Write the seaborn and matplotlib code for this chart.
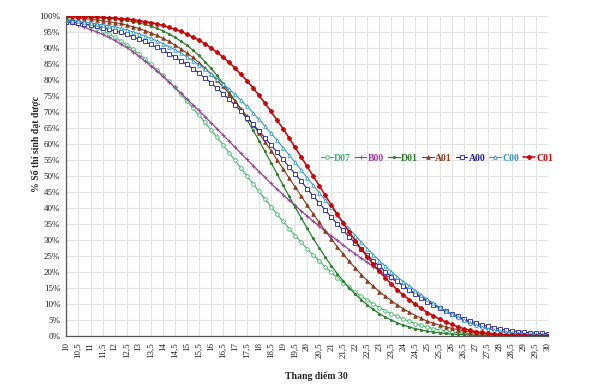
import numpy as np
import matplotlib
matplotlib.use("Agg")
import matplotlib.pyplot as plt
import seaborn as sns

# -----------------------------------------------------------
# Data: % of candidates reaching each score (scale of 30)
# -----------------------------------------------------------

scores = np.arange(10, 30.001, 0.25)

d07 = [99.0, 98.7, 98.2, 97.7, 97.0, 96.3, 95.4, 94.5, 93.4, 92.3, 91.0, 89.7,
       88.2, 86.7, 85.0, 83.3, 81.5, 79.6, 77.7, 75.6, 73.5, 71.3, 69.1, 66.8,
       64.5, 62.1, 59.8, 57.3, 54.9, 52.5, 50.0, 47.6, 45.2, 42.8, 40.4, 38.1,
       35.8, 33.6, 31.4, 29.3, 27.3, 25.3, 23.5, 21.6, 19.9, 18.2, 16.7, 15.2,
       13.7, 12.4, 11.2, 10.0, 8.9, 7.9, 7.0, 6.1, 5.3, 4.6, 3.9, 3.3,
       2.8, 2.3, 1.9, 1.6, 1.3, 1.1, 0.9, 0.7, 0.6, 0.5, 0.4, 0.3,
       0.3, 0.2, 0.2, 0.2, 0.1, 0.1, 0.1, 0.1, 0.1]
b00 = [98.2, 97.7, 97.1, 96.5, 95.8, 95.1, 94.3, 93.4, 92.4, 91.3, 90.2, 88.9,
       87.5, 86.0, 84.5, 82.9, 81.2, 79.5, 77.7, 76.0, 74.1, 72.3, 70.5, 68.6,
       66.7, 64.8, 62.9, 61.0, 59.0, 57.1, 55.2, 53.3, 51.4, 49.6, 47.7, 45.9,
       44.2, 42.4, 40.8, 39.1, 37.5, 35.9, 34.3, 32.8, 31.3, 29.9, 28.4, 27.0,
       25.7, 24.3, 23.0, 21.7, 20.5, 19.2, 18.0, 16.8, 15.7, 14.5, 13.4, 12.2,
       11.1, 10.0, 8.9, 7.8, 6.8, 5.8, 5.0, 4.2, 3.5, 2.9, 2.3, 1.9,
       1.5, 1.2, 0.9, 0.7, 0.5, 0.4, 0.3, 0.2, 0.2]
d01 = [99.9, 99.9, 99.8, 99.8, 99.7, 99.6, 99.5, 99.3, 99.2, 98.9, 98.7, 98.3,
       97.9, 97.4, 96.9, 96.2, 95.4, 94.5, 93.4, 92.2, 90.9, 89.4, 87.7, 85.8,
       83.7, 81.5, 79.0, 76.4, 73.6, 70.7, 67.6, 64.4, 61.1, 57.7, 54.2, 50.7,
       47.2, 43.7, 40.3, 37.0, 33.7, 30.5, 27.6, 24.7, 22.0, 19.5, 17.2, 15.0,
       13.1, 11.3, 9.7, 8.3, 7.0, 5.9, 5.0, 4.1, 3.4, 2.8, 2.3, 1.9,
       1.5, 1.2, 1.0, 0.8, 0.6, 0.5, 0.4, 0.3, 0.2, 0.2, 0.1, 0.1,
       0.1, 0.1, 0.1, 0.0, 0.0, 0.0, 0.0, 0.0, 0.0]
a01 = [99.6, 99.5, 99.4, 99.2, 99.0, 98.8, 98.6, 98.3, 98.0, 97.7, 97.2, 96.7,
       96.2, 95.5, 94.8, 94.0, 93.1, 92.1, 91.0, 89.8, 88.5, 87.1, 85.5, 83.8,
       82.0, 80.0, 78.0, 75.8, 73.5, 71.1, 68.7, 66.1, 63.4, 60.7, 57.9, 55.1,
       52.3, 49.4, 46.6, 43.8, 40.9, 38.2, 35.5, 32.9, 30.4, 27.9, 25.6, 23.3,
       21.2, 19.2, 17.3, 15.5, 13.9, 12.4, 11.0, 9.7, 8.5, 7.4, 6.4, 5.5,
       4.6, 4.0, 3.4, 2.9, 2.4, 2.0, 1.6, 1.3, 1.0, 0.8, 0.6, 0.5,
       0.4, 0.3, 0.2, 0.2, 0.1, 0.1, 0.1, 0.1, 0.1]
a00 = [98.3, 98.1, 97.8, 97.5, 97.2, 96.8, 96.4, 95.9, 95.4, 94.9, 94.3, 93.6,
       92.9, 92.1, 91.2, 90.3, 89.4, 88.3, 87.2, 86.1, 84.9, 83.6, 82.2, 80.7,
       79.2, 77.5, 75.8, 74.0, 72.2, 70.2, 68.2, 66.2, 64.1, 61.9, 59.7, 57.5,
       55.2, 52.9, 50.7, 48.4, 46.1, 43.8, 41.6, 39.4, 37.2, 35.1, 33.0, 31.0,
       29.0, 27.1, 25.3, 23.5, 21.8, 20.1, 18.6, 17.1, 15.7, 14.3, 13.1, 11.9,
       10.7, 9.7, 8.7, 7.7, 6.9, 6.1, 5.4, 4.7, 4.1, 3.5, 3.0, 2.6,
       2.2, 1.9, 1.6, 1.4, 1.2, 1.0, 0.9, 0.8, 0.7]
c00 = [98.7, 98.5, 98.4, 98.1, 97.9, 97.6, 97.3, 97.0, 96.6, 96.2, 95.7, 95.1,
       94.5, 93.8, 93.1, 92.3, 91.4, 90.5, 89.5, 88.4, 87.3, 86.1, 84.8, 83.4,
       82.0, 80.5, 78.9, 77.3, 75.5, 73.7, 71.8, 69.8, 67.7, 65.6, 63.4, 61.2,
       58.9, 56.6, 54.3, 51.9, 49.5, 47.2, 44.8, 42.5, 40.2, 37.9, 35.7, 33.5,
       31.4, 29.3, 27.3, 25.4, 23.6, 21.8, 20.1, 18.5, 17.0, 15.6, 14.2, 12.8,
       11.5, 10.2, 9.0, 7.9, 6.8, 5.8, 4.9, 4.1, 3.4, 2.8, 2.2, 1.8,
       1.5, 1.2, 1.0, 0.8, 0.7, 0.6, 0.5, 0.5, 0.4]
c01 = [99.9, 99.9, 99.8, 99.8, 99.7, 99.7, 99.6, 99.5, 99.4, 99.2, 99.1, 98.9,
       98.6, 98.3, 98.0, 97.6, 97.1, 96.5, 95.9, 95.2, 94.4, 93.5, 92.5, 91.4,
       90.1, 88.7, 87.2, 85.6, 83.8, 81.8, 79.8, 77.6, 75.2, 72.8, 70.2, 67.5,
       64.8, 61.9, 59.0, 56.0, 53.0, 50.0, 47.0, 44.0, 41.0, 38.1, 35.2, 32.5,
       29.8, 27.2, 24.8, 22.4, 20.2, 18.2, 16.2, 14.4, 12.8, 11.3, 9.9, 8.6,
       7.3, 6.3, 5.3, 4.4, 3.6, 2.9, 2.3, 1.8, 1.4, 1.1, 0.8, 0.6,
       0.5, 0.4, 0.3, 0.2, 0.2, 0.1, 0.1, 0.1, 0.1]

# name, values, colour, marker, face colour, marker size, line width
series = [
    ("D07", d07, "#3cb86a", "o", "white", 2.6, 0.8),
    ("B00", b00, "#a33aa8", "+", None, 3.2, 0.9),
    ("D01", d01, "#2e7f2e", "*", None, 2.0, 0.9),
    ("A01", a01, "#8b3a1c", "^", None, 2.6, 0.8),
    ("A00", a00, "#2020a8", "s", "white", 2.4, 0.8),
    ("C00", c00, "#3399cc", "^", "white", 2.6, 0.8),
    ("C01", c01, "#cc0000", "P", None, 3.0, 1.1),
]

# -----------------------------------------------------------
# Plot
# -----------------------------------------------------------

sns.set_style("whitegrid")
plt.rcParams["font.family"] = ["Liberation Serif", "DejaVu Serif"]

fig, ax = plt.subplots(figsize=(6.04, 3.84), dpi=100)
fig.subplots_adjust(left=0.110, right=0.907, top=0.958, bottom=0.125)

for name, vals, color, marker, face, ms, lw in series:
    sns.lineplot(
        x=scores, y=vals, ax=ax, label=name,
        color=color, linewidth=lw,
        marker=marker, markersize=ms,
        markerfacecolor=face if face else color,
        markeredgecolor=color, markeredgewidth=0.6,
    )

ax.set_xlim(10, 30)
ax.set_ylim(0, 100)

xticks = np.arange(10, 30.001, 0.5)
ax.set_xticks(xticks)
ax.set_xticklabels([f"{t:g}".replace(".", ",") for t in xticks], rotation=90)
yticks = np.arange(0, 101, 5)
ax.set_yticks(yticks)
ax.set_yticklabels([f"{t}%" for t in yticks])

ax.grid(color="#e4e4e4", linewidth=0.8)
for side in ["top", "right"]:
    ax.spines[side].set_visible(False)
for side in ["left", "bottom"]:
    ax.spines[side].set_color("#555555")
    ax.spines[side].set_linewidth(0.9)
ax.tick_params(axis="both", length=3, width=0.7, color="#555555",
               direction="out", labelsize=6.5, pad=1.5, labelcolor="#222222")

ax.set_xlabel("Thang điểm 30", fontsize=7, fontweight="bold")
ax.set_ylabel("% Số thí sinh đạt được", fontsize=7, fontweight="bold")
ax.xaxis.set_label_coords(0.52, -0.11)
ax.yaxis.set_label_coords(-0.052, 0.6)

handles, labels = ax.get_legend_handles_labels()
leg = ax.legend(handles, labels, loc="center", bbox_to_anchor=(0.77, 0.556),
                ncol=7, frameon=False, handlelength=1.2, handletextpad=0.15,
                columnspacing=0.4, prop={"size": 7, "weight": "bold"})
for text, s in zip(leg.get_texts(), series):
    text.set_color(s[2])

plt.savefig("out.png", dpi=100)
